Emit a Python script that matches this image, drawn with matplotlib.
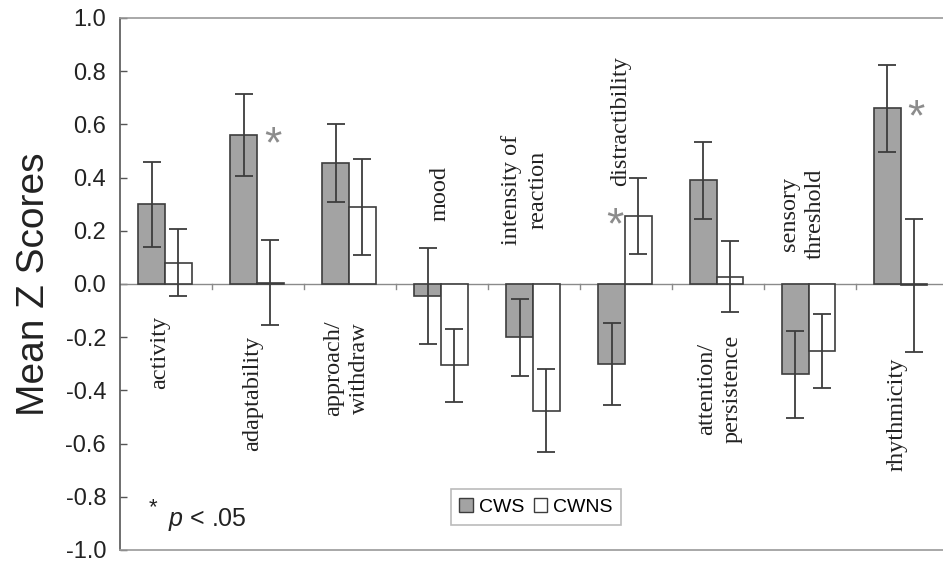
import matplotlib as mpl
import matplotlib.pyplot as plt
import numpy as np
from matplotlib.patches import Patch

mpl.rcParams["font.family"] = ["Liberation Sans", "DejaVu Sans"]
mpl.rcParams["mathtext.fontset"] = "custom"
mpl.rcParams["mathtext.it"] = "Liberation Sans:italic"
mpl.rcParams["mathtext.rm"] = "Liberation Sans"

# ---- data ----
CATEGORIES = ["activity", "adaptability", "approach/\nwithdraw", "mood",
              "intensity of\nreaction", "distractibility",
              "attention/\npersistence", "sensory\nthreshold", "rhythmicity"]
CWS = [0.30, 0.56, 0.455, -0.045, -0.20, -0.30, 0.39, -0.34, 0.66]
CWS_ERR = [0.16, 0.155, 0.145, 0.18, 0.145, 0.155, 0.145, 0.165, 0.165]
CWNS = [0.08, 0.005, 0.29, -0.305, -0.476, 0.255, 0.028, -0.252, -0.005]
CWNS_ERR = [0.125, 0.16, 0.18, 0.137, 0.155, 0.142, 0.132, 0.138, 0.25]
SIG_GROUP = [None, "CWS", None, None, None, "CWNS", None, None, "CWS"]
YTICKS = [-1.0, -0.8, -0.6, -0.4, -0.2, 0.0, 0.2, 0.4, 0.6, 0.8, 1.0]

# ---- layout (label placement, data coords) ----
LABEL_POS = [(-0.065, -0.258), (0.946, -0.412), (1.967, -0.318),
             (2.978, 0.341), (3.902, 0.352), (4.946, 0.614),
             (6.02, -0.393), (6.924, 0.262), (7.946, -0.49)]

GRAY_FILL = "#a3a3a3"
EDGE = "#3d3d3d"
STAR = "#8c8c8c"
TXT = "#222222"

fig = plt.figure(figsize=(9.43, 5.66), dpi=100)
ax = fig.add_axes([120 / 943, 1 - 550 / 566, 1 - 120 / 943, (550 - 18) / 566])

x = np.arange(len(CATEGORIES))
w = 0.29
ekw = dict(ecolor=EDGE, elinewidth=1.3, capsize=6.5, capthick=1.3)
ax.bar(x - 0.01 - w / 2, CWS, w, yerr=CWS_ERR, color=GRAY_FILL,
       edgecolor=EDGE, linewidth=1.2, error_kw=ekw, zorder=3)
ax.bar(x - 0.01 + w / 2, CWNS, w, yerr=CWNS_ERR, color="white",
       edgecolor=EDGE, linewidth=1.2, error_kw=ekw, zorder=3)

# zero (category) axis with small downward ticks at boundaries
ax.axhline(0, color="#8a8a8a", lw=1.0, zorder=2)
for b in np.arange(0.5, len(CATEGORIES) - 0.5, 1.0):
    ax.plot([b, b], [0, -0.02], color="#8a8a8a", lw=1.0, zorder=2)

for (lx, ly), lbl in zip(LABEL_POS, CATEGORIES):
    ax.text(lx, ly, lbl, rotation=90, ha="center", va="center",
            multialignment="center", fontsize=17.5, color=TXT,
            family=["Liberation Serif", "DejaVu Serif"], linespacing=1.3)

# significance stars
for i, g in enumerate(SIG_GROUP):
    if g == "CWS":
        ax.text(x[i] - 0.01 + 0.17, CWS[i] - 0.04, "*", fontsize=32,
                color=STAR, ha="center", va="center")
    elif g == "CWNS":
        ax.text(x[i] - 0.01 - 0.11, CWNS[i] - 0.04, "*", fontsize=32,
                color=STAR, ha="center", va="center")

ax.text(0.035, 0.07, "*", transform=ax.transAxes, fontsize=16, color=TXT)
ax.text(0.058, 0.045, r"$\it{p}$ < .05", transform=ax.transAxes,
        fontsize=18, color=TXT)

ax.set_xlim(-0.5, 8.45)
ax.set_ylim(-1.0, 1.0)
ax.set_yticks(YTICKS)
ax.set_yticklabels([f"{abs(v):.1f}" if v == 0 else f"{v:.1f}" for v in YTICKS])
ax.tick_params(axis="y", direction="in", length=5, width=1, colors="#555555",
               labelcolor=TXT, labelsize=17, pad=10)
ax.set_xticks([])
ax.set_ylabel("Mean Z Scores", fontsize=28, color=TXT, labelpad=10)

ax.spines["left"].set_color("#555555")
ax.spines["left"].set_linewidth(1.2)
for s in ("top", "bottom"):
    ax.spines[s].set_color("#999999")
    ax.spines[s].set_linewidth(1.2)
ax.spines["right"].set_visible(False)

handles = [Patch(facecolor=GRAY_FILL, edgecolor=EDGE, label="CWS"),
           Patch(facecolor="white", edgecolor=EDGE, label="CWNS")]
leg = ax.legend(handles=handles, loc="center", ncol=2,
                bbox_to_anchor=((536 - 120) / 823, (550 - 507) / 532),
                fontsize=14, frameon=True, fancybox=False, handlelength=0.7,
                handleheight=0.7, handletextpad=0.3, columnspacing=0.5,
                borderpad=0.45)
leg.get_frame().set_edgecolor("#aaaaaa")
leg.get_frame().set_linewidth(1.2)

fig.savefig("out.png", dpi=100, facecolor="white")
